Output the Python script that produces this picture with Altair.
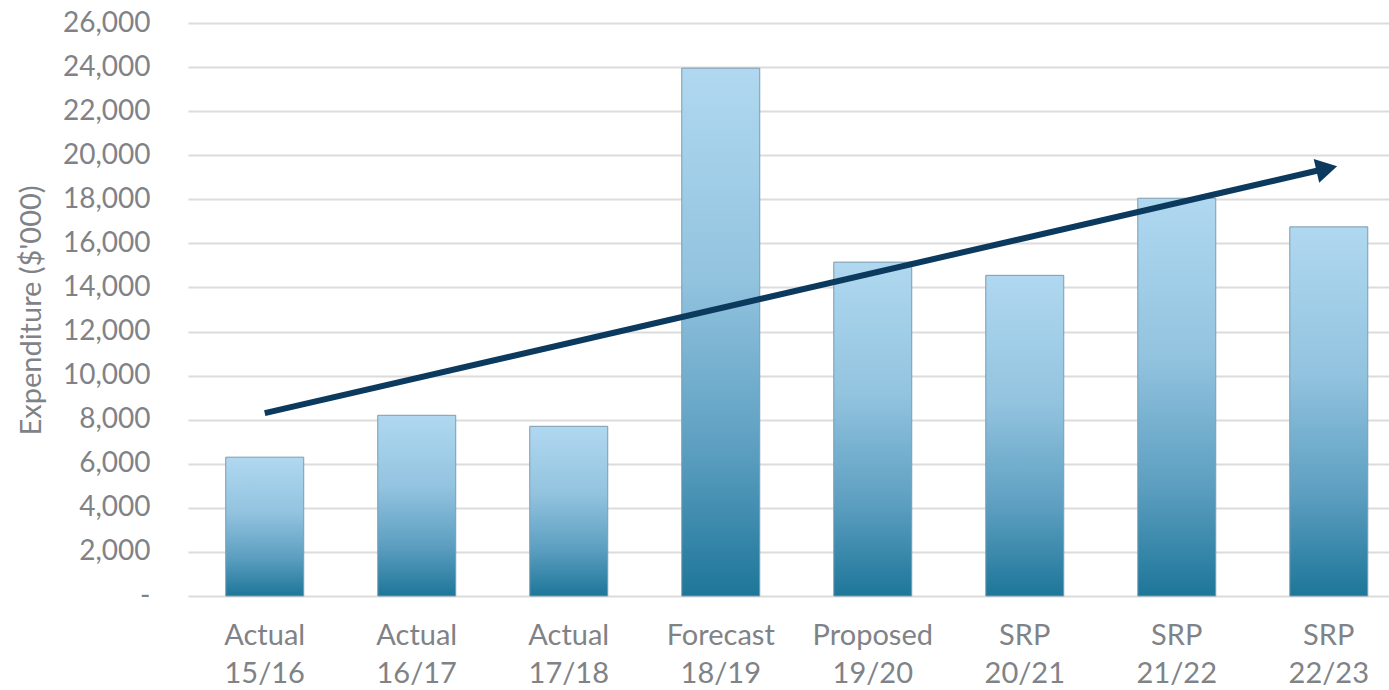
import altair as alt
import pandas as pd

categories = ["Actual 15/16", "Actual 16/17", "Actual 17/18", "Forecast 18/19",
              "Proposed 19/20", "SRP 20/21", "SRP 21/22", "SRP 22/23"]
expenditure = [6300, 8200, 7700, 23950, 15150, 14550, 18050, 16750]
trend_categories = ["Actual 15/16", "SRP 22/23"]
trend_values = [8300, 19420]
y_ticks = list(range(0, 26001, 2000))

bars_df = pd.DataFrame({"cat": categories, "value": expenditure})
trend_df = pd.DataFrame({"cat": trend_categories, "value": trend_values})
head_df = trend_df.iloc[[1]]

FONT = "Lato"
TXT = "#7f8388"

xscale = alt.Scale(domain=categories, paddingInner=0.487, paddingOuter=0.194, align=0.64)
yscale = alt.Scale(domain=[0, 26000], nice=False)

grad = alt.Gradient(
    gradient="linear",
    stops=[alt.GradientStop(color="#b0d8f0", offset=0),
           alt.GradientStop(color="#92c3df", offset=0.4),
           alt.GradientStop(color="#5d9fc1", offset=0.72),
           alt.GradientStop(color="#1d7699", offset=1)],
    x1=0, x2=0, y1=0, y2=1)

x_enc = alt.X("cat:N", scale=xscale, sort=categories, title=None,
              axis=alt.Axis(labelExpr="split(datum.label, ' ')", labelAngle=0,
                            labelFontSize=29, labelLineHeight=38, labelColor=TXT,
                            labelFont=FONT, labelPadding=25, domain=False, ticks=False,
                            grid=False, labelBaseline="top"))
y_enc = alt.Y("value:Q", scale=yscale, title="Expenditure ($'000)",
              axis=alt.Axis(values=y_ticks,
                            labelExpr="datum.value == 0 ? '-' : format(datum.value, ',')",
                            labelFontSize=28, labelColor=TXT, labelFont=FONT,
                            labelPadding=38, domain=False, ticks=False,
                            grid=True, gridColor="#dcdcdc", gridWidth=2,
                            titleFont=FONT, titleFontSize=29, titleColor=TXT,
                            titleFontWeight="normal", titleX=-157, titleY=287,
                            titleBaseline="middle", titleAngle=270))

bars = alt.Chart(bars_df).mark_bar(color=grad, stroke="#7d9bb0", strokeWidth=1).encode(
    x=x_enc, y=y_enc)

line = alt.Chart(trend_df).mark_line(color="#0b3a5e", strokeWidth=6, strokeCap="butt").encode(
    x=alt.X("cat:N", scale=xscale, sort=categories),
    y=alt.Y("value:Q", scale=yscale))

head = alt.Chart(head_df).mark_point(shape="triangle-right", filled=True, color="#0b3a5e",
                                     opacity=1, size=600, angle=347,
                                     xOffset=-2, yOffset=0.5).encode(
    x=alt.X("cat:N", scale=xscale, sort=categories),
    y=alt.Y("value:Q", scale=yscale))

chart = alt.layer(bars, line, head).properties(
    width=1201, height=573,
    autosize=alt.AutoSizeParams(type="none"),
    padding={"left": 188, "top": 23, "right": 0, "bottom": 94},
    background="white",
).configure_view(strokeWidth=0, stroke="transparent")

chart.save("out.html", embed_options={"renderer": "svg", "actions": False})
